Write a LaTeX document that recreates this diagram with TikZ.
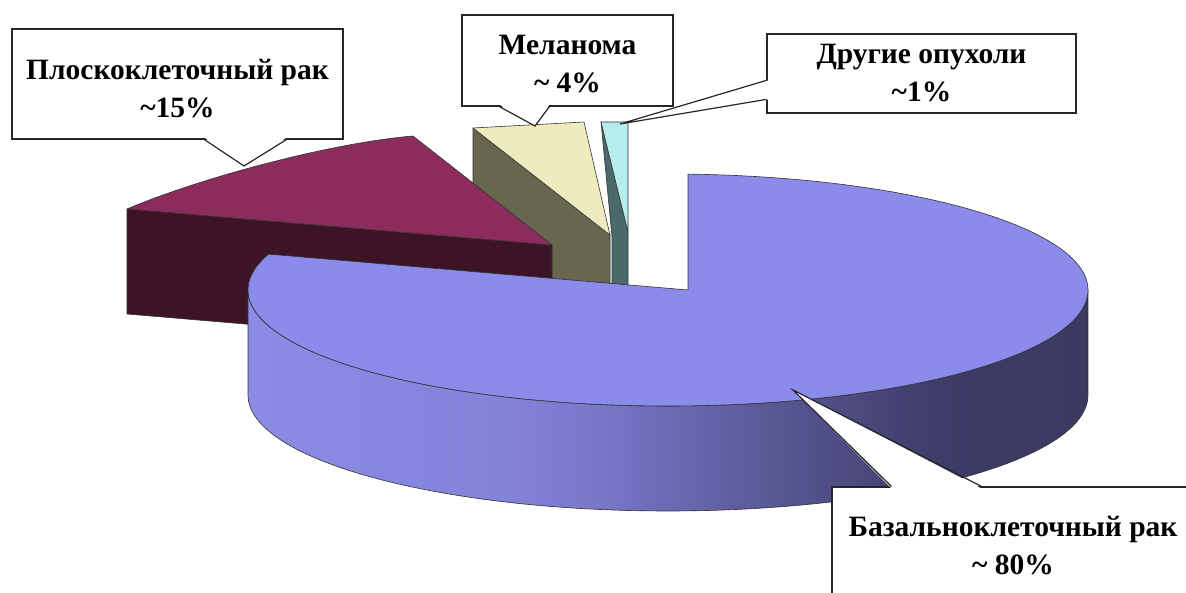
\documentclass[tikz,border=0pt]{standalone}
\usepackage{fontspec}
\setmainfont{Liberation Serif}
\usepackage{xcolor}
\usetikzlibrary{calc}

\definecolor{basaltop}{RGB}{139,139,235}
\definecolor{squamtop}{RGB}{140,44,92}
\definecolor{squamside}{RGB}{60,20,37}
\definecolor{melantop}{RGB}{238,236,190}
\definecolor{melanside}{RGB}{103,102,78}
\definecolor{othertop}{RGB}{183,236,236}
\definecolor{otherside}{RGB}{73,106,105}
\pgfdeclarehorizontalshading{basalside}{100bp}{rgb(0bp)=(0.545,0.545,0.902); rgb(25bp)=(0.545,0.545,0.902);
  rgb(40bp)=(0.518,0.514,0.855); rgb(46bp)=(0.471,0.463,0.784); rgb(56bp)=(0.353,0.345,0.588);
  rgb(66bp)=(0.243,0.235,0.408); rgb(75bp)=(0.227,0.224,0.373); rgb(100bp)=(0.227,0.224,0.373)}

\begin{document}
\begin{tikzpicture}[x=1pt, y=-1pt,
    slice/.style={draw=black!80, line width=0.6pt, line join=round},
    callbox/.style={draw=black!85, line width=1.2pt, fill=white, align=center, inner sep=0pt,
      font=\bfseries\fontsize{29.5}{38}\selectfont},
    pointer/.style={draw=black!85, line width=1.2pt, line join=miter}]
  \useasboundingbox (0,0) rectangle (1186,593);
  \clip (0,0) rectangle (1186,593);

  % other tumours
  \draw[slice, fill=otherside] (601,122) -- (628,232) -- (628,300) -- (612,300) -- (612,237) -- cycle;
  \draw[slice, fill=othertop] (601,122) -- (628,122) -- (628,232) -- cycle;
  % melanoma
  \draw[slice, fill=melanside] (473,128) -- (610,235) -- (610,340) -- (473,233) -- cycle;
  \draw[slice, fill=melantop] (473,128) -- (584,122) -- (610,235) -- cycle;
  % squamous
  \draw[slice, fill=squamside] (127,209) -- (552,245) -- (552,350) -- (127,314) -- cycle;
  \draw[slice, fill=squamtop] (552,245) -- (127,209) .. controls (200,178) and (330,143) .. (413,136) -- cycle;
  % basal
  \path[slice, shading=basalside] (1088,290) arc[start angle=0, end angle=180, x radius=420, y radius=116]
    -- ++(0,105) arc[start angle=180, end angle=0, x radius=420, y radius=116] -- cycle;
  \draw[slice, fill=basaltop] (688,290) -- (688,174.13)
    arc[start angle=-87.27, end angle=198, x radius=420, y radius=116] -- cycle;

  \node[callbox, minimum width=331, minimum height=110] (sqlab) at (177.5,84) {\rule{0pt}{30pt}Плоскоклеточный рак\\\textasciitilde15\%};
  \node[callbox, minimum width=211, minimum height=91] (melab) at (567.5,60.5) {\rule{0pt}{26pt}Меланома\\\textasciitilde{} 4\%};
  \node[callbox, minimum width=309, minimum height=79] (otlab) at (921.5,73.5) {Другие опухоли\\\textasciitilde1\%};
  \node[callbox, minimum width=362, minimum height=118] (bclab) at (1013,546) {Базальноклеточный рак\\\textasciitilde{} 80\%};

  \coordinate (sqtip) at (244,166);
  \coordinate (metip) at (535,126);
  \coordinate (ottip) at (620,124);
  \coordinate (bctip) at (793,390);

  \fill[white] ($(sqlab.south west)+(193,-2)$) -- (sqtip) -- ($(sqlab.south west)+(275,-2)$) -- cycle;
  \draw[pointer] ($(sqlab.south west)+(193,0)$) -- (sqtip) -- ($(sqlab.south west)+(275,0)$);
  \fill[white] ($(melab.south west)+(38,-2)$) -- (metip) -- ($(melab.south west)+(88,-2)$) -- cycle;
  \draw[pointer] ($(melab.south west)+(38,0)$) -- (metip) -- ($(melab.south west)+(88,0)$);
  \fill[white] ($(otlab.north west)+(2,47)$) -- (ottip) -- ($(otlab.north west)+(2,66)$) -- cycle;
  \draw[pointer] ($(otlab.north west)+(0,47)$) -- (ottip) -- ($(otlab.north west)+(0,66)$);
  \fill[white] ($(bclab.north west)+(60,2)$) -- (bctip) -- ($(bclab.north west)+(150,2)$) -- cycle;
  \draw[pointer] ($(bclab.north west)+(60,0)$) -- (bctip) -- ($(bclab.north west)+(150,0)$);
\end{tikzpicture}
\end{document}
